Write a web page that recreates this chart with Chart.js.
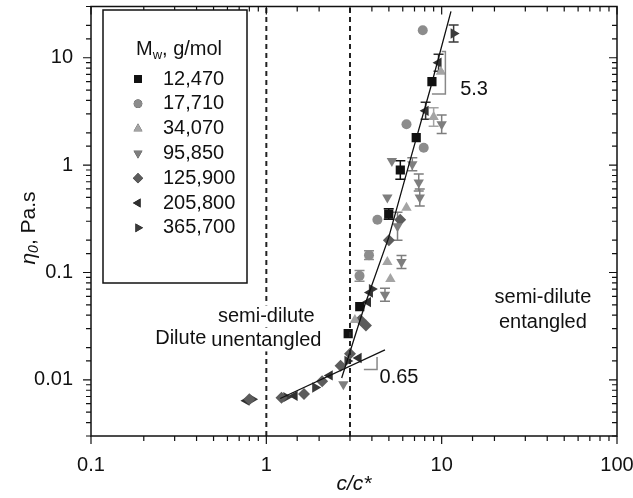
<!DOCTYPE html>
<html><head><meta charset="utf-8">
<script src="https://cdn.jsdelivr.net/npm/chart.js@4.4.0/dist/chart.umd.min.js"></script>
<style>html,body{margin:0;padding:0;background:#fff}#wrap{width:633px;height:498px}</style>
</head><body><div id="wrap"><canvas id="c" width="633" height="498"></canvas></div>
<script>
// ---- data ----
const seriesNames = ['12,470','17,710','34,070','95,850','125,900','205,800','365,700'];
const mw12470  = [[2.93,0.027],[3.41,0.048],[4.99,0.35],[5.81,0.90],[7.16,1.80],[8.8,6.0]];
const err12470 = [0,0,1.12,1.22,0,0];
const mw17710  = [[3.4,0.093],[3.85,0.145],[4.3,0.31],[6.3,2.4],[7.9,1.45],[7.8,18.0]];
const err17710 = [1.12,1.1,0,0,0,0];
const mw34070  = [[3.2,0.036],[4.9,0.125],[5.1,0.087],[6.3,0.40],[9.0,2.8],[9.9,7.4]];
const err34070 = [0,0,0,0,1.22,0];
const mw95850  = [[2.75,0.0091],[4.75,0.062],[5.9,0.125],[5.6,0.27],[4.9,0.50],[7.5,0.50],[7.4,0.69],[5.2,1.09],[6.8,1.02],[10.0,2.4]];
const err95850 = [0,1.15,1.15,1.35,0,1.2,1.2,0,1.15,1.22];
const mw125900 = [[0.80,0.0066],[1.22,0.0068],[1.64,0.0074],[2.08,0.0097],[2.65,0.0135],[3.0,0.0175],[3.7,0.032],[3.44,0.036],[5.0,0.20],[5.8,0.31]];
const err125900= [0,0,0,0,0,0,0,0,0,0];
const mw205800 = [[0.77,0.0064],[1.45,0.0071],[2.3,0.011],[3.36,0.016],[3.8,0.053],[3.9,0.065],[8.1,3.2],[9.6,9.0]];
const err205800= [0,0,0,0,0,0,1.2,1.2];
const mw365700 = [[0.83,0.0066],[1.3,0.0069],[1.9,0.0085],[2.9,0.0150],[4.0,0.07],[11.7,16.8]];
const err365700= [0,0,0,0,0,1.2];
const regimeBounds = [1, 3];
const fitUnentangled = [[1.2,0.0067],[4.75,0.019]];
const fitEntangled   = [[2.69,0.0104],[3.65,0.05],[4.98,0.21],[6.6,1.1],[8.63,5.2],[11.3,27]];
const slope065 = [[3.6,0.0125],[4.28,0.0125],[4.28,0.0163]];
const slope53  = [[10.0,11.4],[10.5,11.4],[10.5,4.6],[8.8,4.6]];
const xRange = [0.1, 100];
const yRange = [0.003, 30];

const FONT = '"Liberation Sans", Arial, Helvetica, sans-serif';
const pts = a => a.map(p => ({x:p[0], y:p[1]}));
const styles = [
  {pointStyle:'rect', rotation:0, radius:6.5, color:'#111111'},
  {pointStyle:'circle', rotation:0, radius:5, color:'#8c8c8c'},
  {pointStyle:'triangle', rotation:0, radius:6, color:'#a4a4a4'},
  {pointStyle:'triangle', rotation:180, radius:6, color:'#7e7e7e'},
  {pointStyle:'rectRot', rotation:0, radius:6, color:'#5c5c5c'},
  {pointStyle:'triangle', rotation:-90, radius:6, color:'#303030'},
  {pointStyle:'triangle', rotation:90, radius:6, color:'#3a3a3a'}
];
const seriesData = [mw12470,mw17710,mw34070,mw95850,mw125900,mw205800,mw365700];
const seriesErr  = [err12470,err17710,err34070,err95850,err125900,err205800,err365700];

const datasets = [];
regimeBounds.forEach(b => datasets.push({
  data: pts([[b, yRange[0]],[b, yRange[1]]]), showLine:true, pointRadius:0,
  borderColor:'#222', borderWidth:2, borderDash:[5,4]
}));
[fitUnentangled, fitEntangled].forEach(f => datasets.push({
  data: pts(f), showLine:true, pointRadius:0, borderColor:'#111', borderWidth:1.3
}));
[slope065, slope53].forEach(f => datasets.push({
  data: pts(f), showLine:true, pointRadius:0, borderColor:'#888', borderWidth:1.5
}));
seriesData.forEach((d,i) => datasets.push({
  label: seriesNames[i], data: pts(d), errFactor: seriesErr[i],
  pointStyle: styles[i].pointStyle, rotation: styles[i].rotation,
  pointRadius: styles[i].radius, pointHoverRadius: styles[i].radius,
  backgroundColor: styles[i].color, borderColor: styles[i].color, borderWidth:0
}));

const isPow10 = v => { const l = Math.log10(v); return Math.abs(l - Math.round(l)) < 1e-6; };

const errorBars = {
  id:'errorBars',
  beforeDatasetsDraw(chart){
    const ctx = chart.ctx, xs = chart.scales.x, ys = chart.scales.y;
    ctx.save();
    chart.data.datasets.forEach(ds => {
      if (!ds.errFactor) return;
      ctx.strokeStyle = ds.borderColor; ctx.lineWidth = 1.5;
      ds.data.forEach((p,i) => {
        const f = ds.errFactor[i]; if (!f) return;
        const x = xs.getPixelForValue(p.x), y1 = ys.getPixelForValue(p.y/f), y2 = ys.getPixelForValue(p.y*f);
        ctx.beginPath();
        ctx.moveTo(x,y1); ctx.lineTo(x,y2);
        ctx.moveTo(x-5,y1); ctx.lineTo(x+5,y1);
        ctx.moveTo(x-5,y2); ctx.lineTo(x+5,y2);
        ctx.stroke();
      });
    });
    ctx.restore();
  }
};

const frame = {
  id:'frame',
  afterDraw(chart){
    const ctx = chart.ctx, a = chart.chartArea, xs = chart.scales.x, ys = chart.scales.y;
    ctx.save();
    ctx.strokeStyle = '#111'; ctx.lineWidth = 1.5;
    ctx.strokeRect(a.left, a.top, a.right-a.left, a.bottom-a.top);
    ctx.lineWidth = 1.2;
    ctx.beginPath();
    xs.ticks.forEach(t => {
      const px = xs.getPixelForValue(t.value), L = isPow10(t.value) ? 8 : 5;
      ctx.moveTo(px, a.bottom); ctx.lineTo(px, a.bottom + L);
      ctx.moveTo(px, a.top); ctx.lineTo(px, a.top + L);
    });
    ys.ticks.forEach(t => {
      const py = ys.getPixelForValue(t.value), L = isPow10(t.value) ? 8 : 5;
      ctx.moveTo(a.left - L, py); ctx.lineTo(a.left, py);
      ctx.moveTo(a.right - L, py); ctx.lineTo(a.right, py);
    });
    ctx.stroke();

    // axis titles
    ctx.fillStyle = '#111';
    ctx.textBaseline = 'middle';
    ctx.font = 'italic 21px ' + FONT;
    ctx.textAlign = 'center';
    ctx.fillText('c/c*', (a.left + a.right)/2, 484);
    ctx.save();
    ctx.translate(29, 228); ctx.rotate(-Math.PI/2);
    ctx.textAlign = 'left';
    const f1 = 'italic 21px ' + FONT, f2 = 'italic 14px ' + FONT, f3 = '21px ' + FONT;
    ctx.font = f1; const w1 = ctx.measureText('η').width;
    ctx.font = f2; const w2 = ctx.measureText('0').width;
    ctx.font = f3; const w3 = ctx.measureText(', Pa.s').width;
    let x0 = -(w1+w2+w3)/2;
    ctx.font = f1; ctx.fillText('η', x0, 0);
    ctx.font = f2; ctx.fillText('0', x0+w1, 5);
    ctx.font = f3; ctx.fillText(', Pa.s', x0+w1+w2, 0);
    ctx.restore();

    // annotations (placed in data coordinates); [text, x, y, whiteBackground]
    const notes = [
      ['Dilute', 0.325, 0.0244, false], ['semi-dilute', 1.0, 0.039, true], ['unentangled', 1.0, 0.0233, true],
      ['semi-dilute', 37.8, 0.0585, false], ['entangled', 37.8, 0.0343, false],
      ['0.65', 5.71, 0.0106, false], ['5.3', 15.3, 5.1, false]
    ];
    ctx.font = '20px ' + FONT; ctx.textAlign = 'center';
    notes.forEach(n => {
      const px = xs.getPixelForValue(n[1]), py = ys.getPixelForValue(n[2]);
      if (n[3]) {
        const w = ctx.measureText(n[0]).width;
        ctx.fillStyle = '#fff'; ctx.fillRect(px - w/2 - 1, py - 11, w + 2, 22);
      }
      ctx.fillStyle = '#111'; ctx.fillText(n[0], px, py);
    });

    // legend box
    const lx = 103, ly = 10, lw = 144, lh = 273;
    ctx.fillStyle = '#fff'; ctx.fillRect(lx, ly, lw, lh);
    ctx.strokeStyle = '#111'; ctx.lineWidth = 1.5; ctx.strokeRect(lx, ly, lw, lh);
    ctx.fillStyle = '#111'; ctx.textAlign = 'left';
    ctx.font = '20px ' + FONT; ctx.fillText('M', 136, 49);
    let wm = ctx.measureText('M').width;
    ctx.font = '13px ' + FONT; ctx.fillText('w', 136 + wm, 55);
    let ww = ctx.measureText('w').width;
    ctx.font = '20px ' + FONT; ctx.fillText(', g/mol', 136 + wm + ww, 49);
    const sds = chart.data.datasets.filter(d => d.label);
    sds.forEach((d,i) => {
      const y = 79 + i*24.8;
      Chart.helpers.drawPoint(ctx, {pointStyle:d.pointStyle, rotation:d.rotation, radius:d.pointRadius*0.85, borderWidth:0}, 138, y);
      ctx.fillStyle = d.backgroundColor; ctx.fill();
      ctx.fillStyle = '#111'; ctx.font = '20px ' + FONT;
      ctx.fillText(d.label, 163, y);
    });
    ctx.restore();
  }
};

new Chart(document.getElementById('c'), {
  type:'scatter',
  data:{datasets},
  options:{
    responsive:false, animation:false, devicePixelRatio:1,
    layout:{padding:{top:5, right:16, left:0, bottom:0}},
    plugins:{legend:{display:false}, tooltip:{enabled:false}, title:{display:false}},
    scales:{
      x:{type:'logarithmic', min:xRange[0], max:xRange[1],
         grid:{display:false}, border:{display:false},
         ticks:{autoSkip:false, maxRotation:0, padding:9, color:'#111', font:{family:FONT, size:20},
                callback:(v)=> isPow10(v) ? String(v) : ''},
         afterFit:(s)=>{ s.height = 62; s.paddingLeft = 0; s.paddingRight = 0; }},
      y:{type:'logarithmic', min:yRange[0], max:yRange[1],
         grid:{display:false}, border:{display:false},
         ticks:{autoSkip:false, padding:10, color:'#111', font:{family:FONT, size:20},
                callback:(v)=> isPow10(v) ? String(v) : ''},
         afterFit:(s)=>{ s.width = 91; s.paddingTop = 0; s.paddingBottom = 0; }}
    }
  },
  plugins:[errorBars, frame]
});
</script></body></html>
